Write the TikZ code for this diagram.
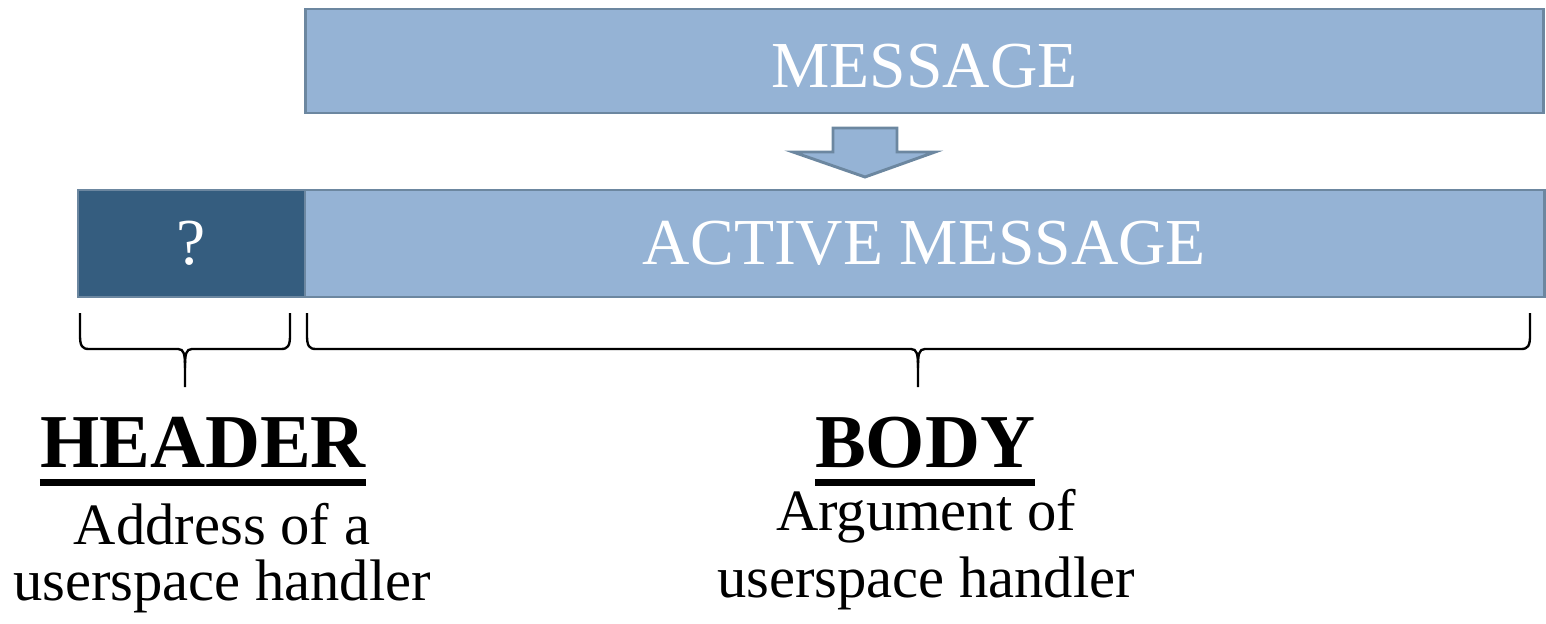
\documentclass[tikz,border=0pt]{standalone}
\usepackage{fontspec}
\setmainfont{Liberation Serif}
\usetikzlibrary{positioning}
\definecolor{boxfill}{RGB}{149,179,213}
\definecolor{boxline}{RGB}{108,135,160}
\definecolor{hdrfill}{RGB}{53,93,127}
\tikzset{
  field/.style={draw=boxline, fill=#1, line width=2.5pt, text=white, inner sep=0pt,
    font=\fontsize{56}{60}\selectfont, minimum height=3.21cm},
  caption/.style={inner sep=0pt, anchor=base, font=\fontsize{65}{70}\selectfont\bfseries},
  note/.style={inner sep=0pt, align=center, font=\fontsize{50}{#1}\selectfont},
  brace/.style={line width=2pt},
  rule/.style={line width=6pt}
}
% curly brace under a field: left x, tip x, right x
\newcommand\fieldbrace[3]{%
  \draw[brace] (#1,313) -- (#1,335) .. controls (#1,346) and (#1+2,349) .. (#1+9,349)
    -- (#2-7,349) .. controls (#2-1,349) and (#2,354) .. (#2,368) -- (#2,387);
  \draw[brace] (#3,313) -- (#3,335) .. controls (#3,346) and (#3-2,349) .. (#3-9,349)
    -- (#2+7,349) .. controls (#2+1,349) and (#2,354) .. (#2,368);
}

\begin{document}
\begin{tikzpicture}[x=0.03cm, y=-0.03cm]
  \useasboundingbox (0,0) rectangle (1546,624);
  % message fields
  \node[field=boxfill, minimum width=37.14cm, minimum height=3.12cm, text height=1.6cm] (msg) at (924.5,61) {MESSAGE};
  \node[field=boxfill, minimum width=37.17cm] (act) at (924.5,243.5) {ACTIVE MESSAGE};
  \node[field=hdrfill, minimum width=6.81cm] (hdr) at (191.5,243.5) {?};
  % block arrow between the two
  \draw[draw=boxline, fill=boxfill, line width=2.5pt]
    (833,128) -- (897,128) -- (897,152) -- (935,152) -- (865,177) -- (793,152) -- (833,152) -- cycle;
  % braces
  \fieldbrace{80}{185}{290}
  \fieldbrace{307}{918}{1530}
  % labels
  \node[caption] (hdrlbl) at (203,467) {HEADER};
  \node[caption] (bodylbl) at (925,467) {BODY};
  \draw[rule] ([yshift=-13pt]hdrlbl.base west) -- ([yshift=-13pt]hdrlbl.base east);
  \draw[rule] ([yshift=-13pt]bodylbl.base west) -- ([yshift=-13pt]bodylbl.base east);
  \node[note=47pt, anchor=base] (hdrtxt) at (222,600) {Address of a\\userspace handler};
  \node[note=57pt, anchor=base] (bodytxt) at (926,597) {Argument of\\userspace handler};
\end{tikzpicture}
\end{document}
